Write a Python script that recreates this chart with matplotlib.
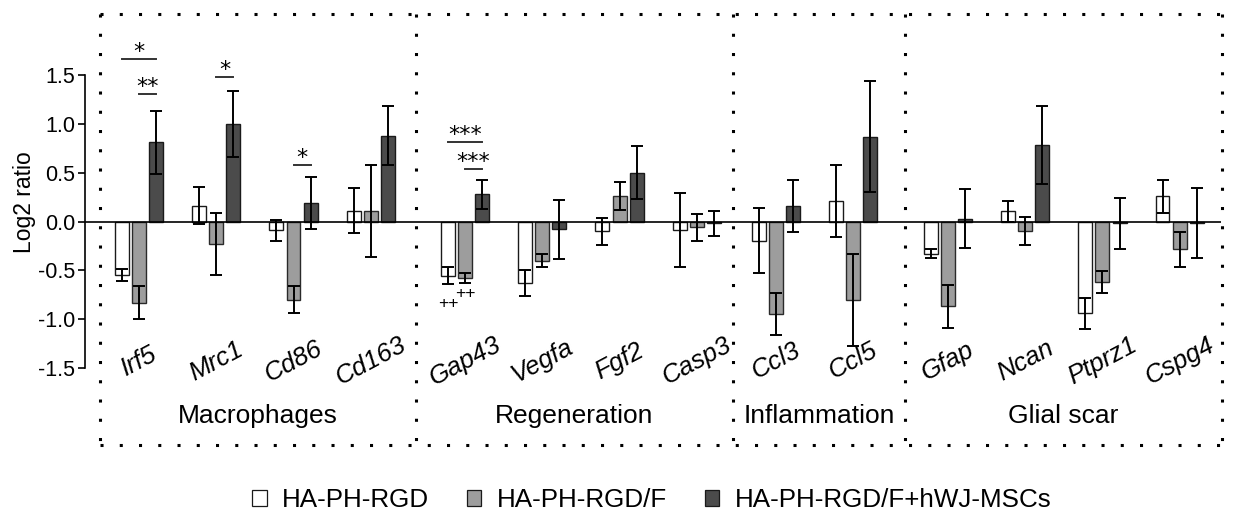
import matplotlib
matplotlib.use("Agg")
import matplotlib.pyplot as plt
from matplotlib.patches import Patch
import numpy as np

plt.rcParams["font.family"] = ["Liberation Sans", "DejaVu Sans"]
plt.rcParams["axes.unicode_minus"] = False

# ---- data -------------------------------------------------------------
genes = ["Irf5", "Mrc1", "Cd86", "Cd163",
         "Gap43", "Vegfa", "Fgf2", "Casp3",
         "Ccl3", "Ccl5",
         "Gfap", "Ncan", "Ptprz1", "Cspg4"]
gene_group = [0, 0, 0, 0, 1, 1, 1, 1, 2, 2, 3, 3, 3, 3]
groups = ["Macrophages", "Regeneration", "Inflammation", "Glial scar"]
series = ["HA-PH-RGD", "HA-PH-RGD/F", "HA-PH-RGD/F+hWJ-MSCs"]

mean_rgd = [-0.55, 0.16, -0.09, 0.11, -0.555, -0.63, -0.10, -0.09,
            -0.195, 0.21, -0.33, 0.105, -0.94, 0.26]
err_rgd = [0.06, 0.19, 0.11, 0.23, 0.085, 0.135, 0.14, 0.38,
           0.33, 0.37, 0.045, 0.105, 0.16, 0.17]

mean_rgdf = [-0.83, -0.23, -0.80, 0.11, -0.58, -0.40, 0.26, -0.06,
             -0.95, -0.80, -0.87, -0.10, -0.62, -0.285]
err_rgdf = [0.17, 0.32, 0.14, 0.47, 0.05, 0.07, 0.14, 0.135,
            0.215, 0.47, 0.22, 0.145, 0.115, 0.18]

mean_msc = [0.81, 1.00, 0.19, 0.88, 0.28, -0.08, 0.50, -0.02,
            0.16, 0.87, 0.03, 0.78, -0.02, -0.015]
err_msc = [0.32, 0.335, 0.27, 0.30, 0.15, 0.30, 0.27, 0.13,
           0.27, 0.57, 0.30, 0.40, 0.265, 0.355]

yticks = [1.5, 1.0, 0.5, 0.0, -0.5, -1.0, -1.5]
ytick_labels = ["1.5", "1.0", "0.5", "0.0", "-0.5", "-1.0", "-1.5"]

# significance brackets: (gene, from series, to series, bracket height, label)
brackets = [("Irf5", 0, 2, 1.663, "*"),
            ("Irf5", 1, 2, 1.305, "**"),
            ("Mrc1", 1, 2, 1.479, "*"),
            ("Cd86", 1, 2, 0.578, "*"),
            ("Gap43", 0, 2, 0.814, "***"),
            ("Gap43", 1, 2, 0.537, "***")]
# marks under bars: (gene, series, y, label)
plus_marks = [("Gap43", 0, -0.84, "++"),
              ("Gap43", 1, -0.735, "++")]

# ---- layout / style ---------------------------------------------------
W, H = 1235, 516
group_offset = [0.0, 0.22, 0.245, 0.47]
x = np.array([i + group_offset[g] for i, g in enumerate(gene_group)])
bar_w = 0.18
shift = 0.222
colors = ["#ffffff", "#9d9d9d", "#4b4b4b"]
edges = ["#1a1a1a", "#2a2a2a", "#1a1a1a"]

fig = plt.figure(figsize=(W / 100, H / 100), dpi=100)
ax = fig.add_axes([85 / W, 1 - 368 / H, (1221 - 85) / W, (368 - 75) / H])
ax.set_xlim(-0.699, 14.005)
ax.set_ylim(-1.5, 1.5)

means = [mean_rgd, mean_rgdf, mean_msc]
errs = [err_rgd, err_rgdf, err_msc]
for k in range(3):
    xk = x + (k - 1) * shift
    ax.bar(xk, means[k], width=bar_w, color=colors[k], edgecolor=edges[k],
           linewidth=1.0, zorder=2, clip_on=False)
    ax.errorbar(xk, means[k], yerr=errs[k], fmt="none", ecolor="black",
                elinewidth=1.4, capsize=4.5, capthick=1.4, zorder=3,
                clip_on=False)

ax.axhline(0, color="black", lw=1.2, zorder=4)

# axes styling
for s in ["top", "right", "bottom"]:
    ax.spines[s].set_visible(False)
ax.spines["left"].set_bounds(-1.5, 1.5)
ax.spines["left"].set_linewidth(1.2)
ax.set_xticks([])
ax.set_yticks(yticks)
ax.set_yticklabels(ytick_labels, fontsize=15.5)
ax.tick_params(axis="y", length=5, width=1.2, pad=2)
fig.text(25 / W, 1 - 202 / H, "Log2 ratio", rotation=90, ha="center",
         va="center", fontsize=16.5)

# gene names
for xi, g in zip(x, genes):
    ax.text(xi, -1.428, g, rotation=28, ha="center", va="center",
            style="italic", fontsize=18.5, clip_on=False)

# dotted group frame
y_top, y_bot = 2.12, -2.29
bounds = [-0.505, 3.585, 7.69, 9.915, 14.02]
dot = dict(color="black", lw=2.2, linestyle=(0, (1, 5.3)),
           dash_capstyle="butt", clip_on=False, zorder=1)
ax.plot([bounds[0], bounds[-1]], [y_top, y_top], **dot)
ax.plot([bounds[0], bounds[-1]], [y_bot, y_bot], **dot)
for b in bounds:
    ax.plot([b, b], [y_top, y_bot], **dot)
for i, name in enumerate(groups):
    ax.text((bounds[i] + bounds[i + 1]) / 2, -1.99, name, ha="center",
            va="center", fontsize=19, clip_on=False)

# significance brackets
for gene, a, b, h, lab in brackets:
    gi = genes.index(gene)
    xa = x[gi] + (a - 1) * shift
    xb = x[gi] + (b - 1) * shift
    ax.plot([xa, xb], [h, h], color="#333333", lw=1.4, clip_on=False)
    ax.text((xa + xb) / 2, h + 0.015, lab, ha="center", va="baseline",
            fontsize=16, family="DejaVu Sans", clip_on=False)

for gene, k, yv, lab in plus_marks:
    gi = genes.index(gene)
    ax.text(x[gi] + (k - 1) * shift, yv, lab, ha="center", va="center",
            fontsize=12.5, clip_on=False)

# legend
handles = [Patch(facecolor=colors[k], edgecolor="#1a1a1a", linewidth=0.9)
           for k in range(3)]
fig.legend(handles, series, loc="center", bbox_to_anchor=(652 / W, 1 - 500 / H),
           ncol=3, frameon=False, fontsize=18.7, handlelength=0.55,
           handleheight=0.55, handletextpad=0.6, columnspacing=1.45)

fig.savefig("out.png", dpi=100)
